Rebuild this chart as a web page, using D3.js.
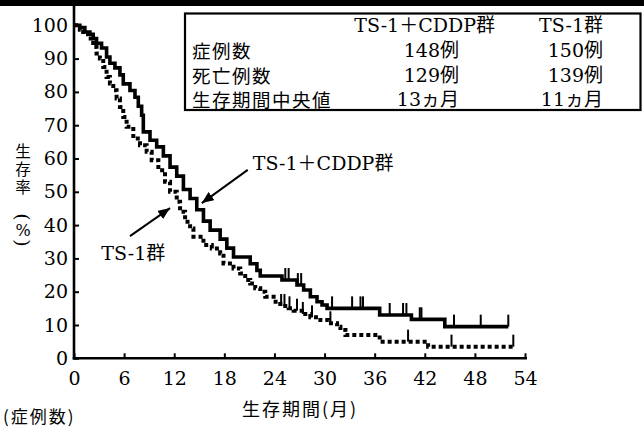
<!DOCTYPE html>
<html><head><meta charset="utf-8">
<script src="https://cdn.jsdelivr.net/npm/d3@7"></script>
<style>
html,body{margin:0;padding:0;background:#fff;}
svg{display:block;}
</style></head>
<body>
<script>
// ---------- data ----------
const xTicks = [0, 6, 12, 18, 24, 30, 36, 42, 48, 54];
const yTicks = [0, 10, 20, 30, 40, 50, 60, 70, 80, 90, 100];

// TS-1 + CDDP group (solid): step times (months) and survival (%)
const cddpTime = [0, 0.7, 1.3, 1.9, 2.3, 2.7, 3.3, 3.9, 4.3, 4.9, 5.5, 5.9, 6.7, 7.3, 7.7, 8.1, 8.3, 9.1, 9.9, 10.7, 11.5, 12.3, 13.1, 13.9, 14.7, 15.5, 16.3, 17.5, 18.3, 19.1, 21.1, 21.9, 22.3, 24.9, 26.7, 27.5, 28.3, 29.1, 29.7, 30.3, 36.6, 40.4, 44.4];
const cddpSurv = [100, 99.3, 98.0, 97.3, 96.0, 94.6, 93.2, 90.5, 88.6, 87.2, 85.1, 82.4, 80.4, 78.4, 75.7, 73.0, 68.0, 65.5, 63.5, 60.8, 57.4, 54.7, 50.7, 48.0, 44.6, 41.2, 38.5, 35.8, 33.1, 30.4, 28.4, 26.4, 24.7, 23.5, 22.0, 20.5, 18.5, 17.0, 16.0, 15.0, 13.0, 11.7, 9.5];
const cddpCensor = [25.3, 25.7, 26.8, 27.2, 30.9, 33.3, 34.3, 34.6, 37.8, 39.4, 39.8, 41.4, 41.6, 45.5, 48.7, 52.0];
const cddpEnd = 52.0;

// TS-1 group (dotted)
const ts1Time = [0, 0.7, 1.1, 1.7, 2.3, 2.7, 3.1, 3.5, 3.9, 4.3, 4.7, 5.1, 5.5, 5.9, 6.3, 7.1, 7.9, 8.7, 9.3, 10.1, 10.9, 11.5, 12.3, 12.7, 13.3, 13.9, 14.3, 15.5, 16.5, 17.5, 17.9, 19.1, 19.9, 20.5, 21.1, 21.7, 22.3, 22.9, 23.9, 24.7, 25.7, 26.3, 27.3, 28.3, 29.5, 30.5, 31.5, 31.9, 32.5, 36.6, 42.4];
const ts1Surv = [100, 98.7, 97.3, 96.0, 93.5, 91.5, 90.0, 87.5, 84.5, 82.5, 80.5, 78.0, 75.5, 72.5, 69.5, 66.0, 64.0, 62.0, 59.5, 56.5, 53.0, 50.0, 47.0, 44.0, 41.0, 39.0, 36.5, 34.0, 33.0, 31.5, 28.5, 27.0, 25.5, 23.5, 22.5, 21.0, 20.0, 18.5, 17.0, 15.7, 15.0, 14.3, 13.3, 12.3, 11.5, 10.5, 9.5, 8.5, 7.0, 5.0, 3.5];
const ts1Censor = [24.8, 25.2, 25.8, 26.7, 27.4, 28.5, 30.7, 40.0, 45.2, 52.6];
const ts1End = 52.6;

// summary table
const tableHeaders = ["TS-1＋CDDP群", "TS-1群"];
const tableRows = ["症例数", "死亡例数", "生存期間中央値"];
const cddpStats = ["148例", "129例", "13ヵ月"];
const ts1Stats = ["150例", "139例", "11ヵ月"];

// labels
const yTitle = "生存率";
const xTitle = "生存期間(月)";
const bottomNote = "(症例数)";
const cddpLabel = "TS-1＋CDDP群";
const ts1Label = "TS-1群";

// ---------- drawing ----------
const W = 644, H = 428;
const latin = "'DejaVu Serif', 'Noto Sans CJK JP', serif";
const cjk = "'Noto Sans CJK JP', 'DejaVu Serif', sans-serif";

const svg = d3.select("body").append("svg").attr("width", W).attr("height", H);

const x = d3.scaleLinear().domain([0, 54]).range([74, 525]);
const y = d3.scaleLinear().domain([0, 100]).range([358.3, 25.3]);

// top black bar
svg.append("rect").attr("x", 0).attr("y", 0).attr("width", W).attr("height", 6).attr("fill", "#000");

// axes
const xAxis = d3.axisBottom(x).tickValues(xTicks).tickSizeInner(-5).tickSizeOuter(0).tickPadding(13);
const yAxis = d3.axisLeft(y).tickValues(yTicks).tickSizeInner(-5).tickSizeOuter(0).tickPadding(6);

const gx = svg.append("g").attr("transform", `translate(0,${y(0)})`).call(xAxis);
const gy = svg.append("g").attr("transform", `translate(${x(0)},0)`).call(yAxis);
[gx, gy].forEach(g => {
  g.select(".domain").remove();
  g.selectAll(".tick line").attr("stroke", "#000").attr("stroke-width", 2);
  g.selectAll(".tick text").attr("fill", "#000").style("font-family", latin).style("font-size", "19px");
});
// axis lines
svg.append("line").attr("x1", x(0)).attr("x2", x(0)).attr("y1", 6).attr("y2", y(0) + 1.2)
  .attr("stroke", "#000").attr("stroke-width", 2.6);
svg.append("line").attr("x1", x(0) - 1.3).attr("x2", x(54) + 2).attr("y1", y(0)).attr("y2", y(0))
  .attr("stroke", "#000").attr("stroke-width", 2.6);

// survival step curves
function stepData(times, surv, end) {
  const pts = times.map((t, i) => [t, surv[i]]);
  pts.push([end, surv[surv.length - 1]]);
  return pts;
}
function survAt(times, surv, t) {
  let v = surv[0];
  for (let i = 0; i < times.length; i++) if (times[i] <= t) v = surv[i];
  return v;
}
const line = d3.line().x(d => x(d[0])).y(d => y(d[1])).curve(d3.curveStepAfter);

svg.append("path").datum(stepData(ts1Time, ts1Surv, ts1End)).attr("d", line)
  .attr("fill", "none").attr("stroke", "#000").attr("stroke-width", 4)
  .attr("stroke-dasharray", "4,3");
svg.append("path").datum(stepData(cddpTime, cddpSurv, cddpEnd)).attr("d", line)
  .attr("fill", "none").attr("stroke", "#000").attr("stroke-width", 3.6)
  .attr("stroke-linejoin", "miter");

// censor marks
function censor(times, surv, cens) {
  svg.append("g").selectAll("line").data(cens).join("line")
    .attr("x1", d => x(d)).attr("x2", d => x(d))
    .attr("y1", d => y(survAt(times, surv, d)))
    .attr("y2", d => y(survAt(times, surv, d)) - 12)
    .attr("stroke", "#000").attr("stroke-width", 2);
}
censor(cddpTime, cddpSurv, cddpCensor);
censor(ts1Time, ts1Surv, ts1Censor);

// arrows (in data coordinates)
const defs = svg.append("defs");
defs.append("marker").attr("id", "ah").attr("viewBox", "0 0 12 10").attr("refX", 12).attr("refY", 5)
  .attr("markerWidth", 12).attr("markerHeight", 10).attr("markerUnits", "userSpaceOnUse").attr("orient", "auto")
  .append("path").attr("d", "M0,0 L12,5 L0,10 Z").attr("fill", "#000");

const arrows = [
  {from: [20.8, 56.6], to: [15.3, 46.6]},
  {from: [6.7, 36.7], to: [11.5, 45.1]}
];
svg.append("g").selectAll("line").data(arrows).join("line")
  .attr("x1", d => x(d.from[0])).attr("y1", d => y(d.from[1]))
  .attr("x2", d => x(d.to[0])).attr("y2", d => y(d.to[1]))
  .attr("stroke", "#000").attr("stroke-width", 2).attr("marker-end", "url(#ah)");

svg.append("text").attr("x", x(21.4)).attr("y", y(58.7)).attr("dominant-baseline", "central")
  .style("font-family", latin).style("font-size", "19px").text(cddpLabel);
svg.append("text").attr("x", x(7.1)).attr("y", y(31.6)).attr("text-anchor", "middle").attr("dominant-baseline", "central")
  .style("font-family", latin).style("font-size", "19px").text(ts1Label);

// y-axis title (vertical writing)
const yt = svg.append("g").attr("fill", "#000");
yt.append("text").attr("x", 23).attr("y", 143.5)
  .style("writing-mode", "vertical-rl").style("font-family", cjk).style("font-size", "15.5px")
  .style("letter-spacing", "2.5px").text(yTitle);
yt.append("text").attr("transform", "translate(23,217) rotate(90)").attr("text-anchor", "middle")
  .attr("dominant-baseline", "central").style("font-family", latin).style("font-size", "19px").text("(");
yt.append("text").attr("x", 23).attr("y", 230).attr("text-anchor", "middle")
  .attr("dominant-baseline", "central").style("font-family", latin).style("font-size", "16px").text("%");
yt.append("text").attr("transform", "translate(23,243) rotate(90)").attr("text-anchor", "middle")
  .attr("dominant-baseline", "central").style("font-family", latin).style("font-size", "19px").text(")");

// x-axis title and note
svg.append("text").attr("x", 300).attr("y", 408).attr("text-anchor", "middle").attr("dominant-baseline", "central")
  .style("font-family", cjk).style("font-size", "18px").style("letter-spacing", "2px").attr("fill", "#000").text(xTitle);
svg.append("text").attr("x", 3).attr("y", 415.5).attr("dominant-baseline", "central")
  .style("font-family", cjk).style("font-size", "17px").style("letter-spacing", "2px").attr("fill", "#000").text(bottomNote);

// summary table
const tb = svg.append("g");
tb.append("rect").attr("x", 185).attr("y", 13.5).attr("width", 455.5).attr("height", 96.5)
  .attr("fill", "#fff").attr("stroke", "#000").attr("stroke-width", 2.2);
const rowY = [25, 50, 75, 99];
const colEnd = [495, 603];
const colValEnd = [459, 603];
tableHeaders.forEach((h, i) => {
  tb.append("text").attr("x", colEnd[i]).attr("y", rowY[0]).attr("text-anchor", "end")
    .attr("dominant-baseline", "central").style("font-family", latin).style("font-size", "19px").text(h);
});
tableRows.forEach((r, i) => {
  tb.append("text").attr("x", 192).attr("y", rowY[i + 1]).attr("dominant-baseline", "central")
    .style("font-family", cjk).style("font-size", "18.5px").style("letter-spacing", "1.5px").text(r);
  tb.append("text").attr("x", colValEnd[0]).attr("y", rowY[i + 1]).attr("text-anchor", "end")
    .attr("dominant-baseline", "central").style("font-family", latin).style("font-size", "19px").text(cddpStats[i]);
  tb.append("text").attr("x", colValEnd[1]).attr("y", rowY[i + 1]).attr("text-anchor", "end")
    .attr("dominant-baseline", "central").style("font-family", latin).style("font-size", "19px").text(ts1Stats[i]);
});
</script>
</body></html>
